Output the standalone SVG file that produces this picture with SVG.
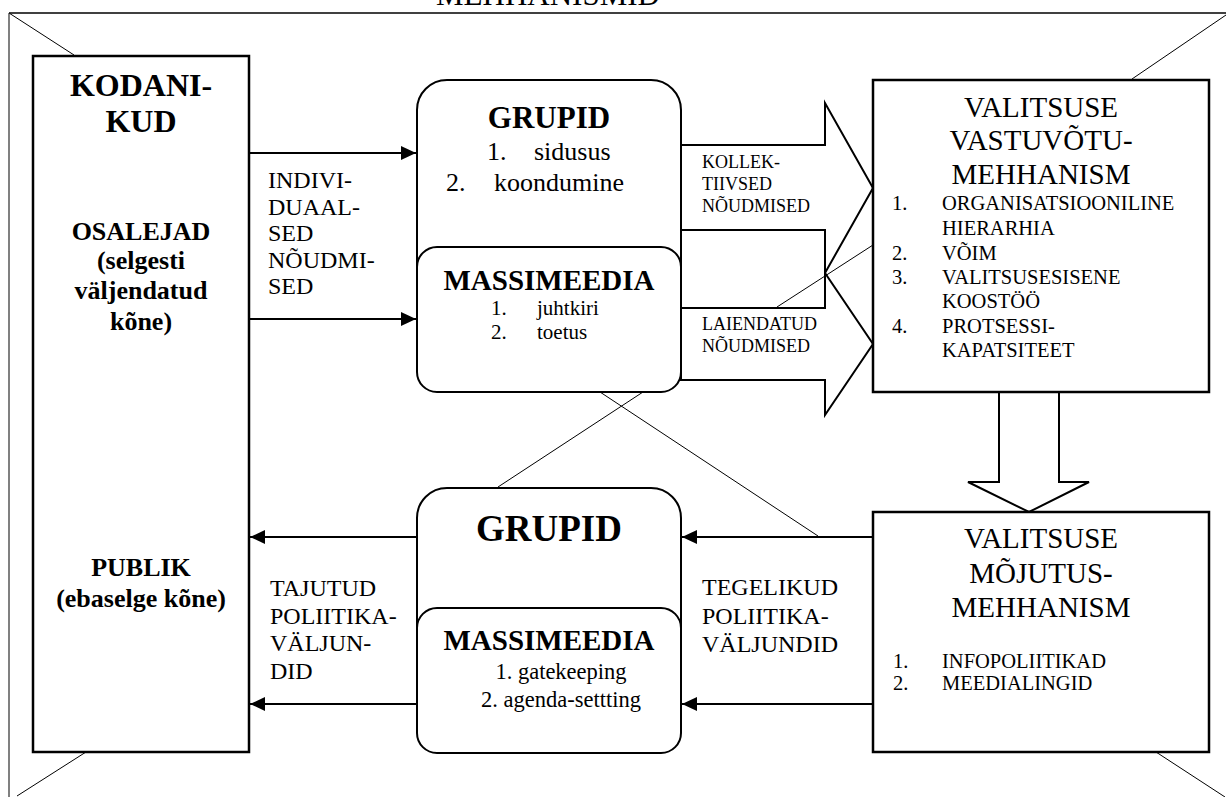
<svg xmlns="http://www.w3.org/2000/svg" width="1226" height="797" viewBox="0 0 1226 797" font-family="'Liberation Serif', 'DejaVu Serif', 'Times New Roman', serif">
  <style>
    text { font-family: "Liberation Serif", "DejaVu Serif", "Times New Roman", serif; fill: #000; }
    .b { font-weight: bold; }
    .box { fill: #fff; stroke: #000; stroke-width: 2.5; }
    .rbox { fill: #fff; stroke: #000; stroke-width: 2; }
    .thin { stroke: #000; stroke-width: 1; fill: none; }
    .flow { stroke: #000; stroke-width: 2.2; fill: none; marker-end: url(#ah); }
    .block { fill: #fff; stroke: #000; stroke-width: 2; stroke-linejoin: miter; }
    .mid { text-anchor: middle; }
  </style>
  <defs>
    <marker id="ah" viewBox="0 0 15 14" refX="15" refY="7" markerWidth="15" markerHeight="14" markerUnits="userSpaceOnUse" orient="auto">
      <path d="M0,0 L15,7 L0,14 z" fill="#000"/>
    </marker>
  </defs>

  <rect width="1226" height="797" fill="#fff"/>

  <!-- outer frame and heading -->
  <g id="frame">
    <text class="mid" x="548" y="5" font-size="31">MEHHANISMID</text>
    <line x1="9" y1="13" x2="1226" y2="13" stroke="#000" stroke-width="1.5"/>
    <line x1="9" y1="13" x2="9" y2="797" stroke="#808080" stroke-width="2"/>
    <!-- background cross, visible pieces -->
    <line class="thin" x1="9" y1="13" x2="74" y2="55"/>
    <line class="thin" x1="600" y1="392" x2="818" y2="536"/>
    <line class="thin" x1="1156" y1="752" x2="1225" y2="797"/>
    <line class="thin" x1="1226" y1="15" x2="1132" y2="79"/>
    <line class="thin" x1="873" y1="245" x2="777" y2="307"/>
    <line class="thin" x1="643" y1="392" x2="498" y2="487"/>
    <line class="thin" x1="86" y1="752" x2="17" y2="796"/>
  </g>

  <!-- connectors -->
  <g id="connectors">
    <line class="flow" x1="249" y1="153" x2="416" y2="153"/>
    <line class="flow" x1="249" y1="319" x2="416" y2="319"/>
    <line class="flow" x1="417" y1="537" x2="250" y2="537"/>
    <line class="flow" x1="417" y1="704" x2="250" y2="704"/>
    <line class="flow" x1="873" y1="537" x2="682" y2="537"/>
    <line class="flow" x1="873" y1="704" x2="682" y2="704"/>
    <polygon class="block" points="681,145 825,145 825,103 873,188 825,273 825,230 681,230"/>
    <polygon class="block" points="681,308 825,308 825,273 873,344 825,415 825,380 681,380"/>
    <polygon class="block" points="999,392 1059,392 1059,482 1089,482 1029,512 968,482 999,482"/>
    <text x="702" y="168" font-size="18">KOLLEK-</text>
    <text x="702" y="190" font-size="18">TIIVSED</text>
    <text x="702" y="212" font-size="18">NÕUDMISED</text>
    <text x="702" y="330" font-size="18">LAIENDATUD</text>
    <text x="702" y="352" font-size="18">NÕUDMISED</text>
    <g font-size="24">
      <text x="268" y="188">INDIVI-</text>
      <text x="268" y="214.5">DUAAL-</text>
      <text x="268" y="241">SED</text>
      <text x="268" y="267.5">NÕUDMI-</text>
      <text x="268" y="294">SED</text>
      <text x="270" y="596">TAJUTUD</text>
      <text x="270" y="623.5">POLIITIKA-</text>
      <text x="270" y="651">VÄLJUN-</text>
      <text x="270" y="678.5">DID</text>
      <text x="702" y="595">TEGELIKUD</text>
      <text x="702" y="623.5">POLIITIKA-</text>
      <text x="702" y="652">VÄLJUNDID</text>
    </g>
  </g>

  <!-- citizens -->
  <g id="kodanikud">
    <rect class="box" x="33" y="56" width="216" height="696"/>
    <text class="b mid" x="141" y="96" font-size="32">KODANI-</text>
    <text class="b mid" x="141" y="132" font-size="32">KUD</text>
    <text class="b mid" x="141" y="240" font-size="26">OSALEJAD</text>
    <text class="b mid" x="141" y="269" font-size="26">(selgesti</text>
    <text class="b mid" x="141" y="299" font-size="26">väljendatud</text>
    <text class="b mid" x="141" y="330" font-size="26">kõne)</text>
    <text class="b mid" x="141" y="576" font-size="26">PUBLIK</text>
    <text class="b mid" x="141" y="607" font-size="26">(ebaselge kõne)</text>
  </g>

  <!-- groups, input side -->
  <g id="grupid-sisend">
    <rect class="rbox" x="417" y="80" width="264" height="312" rx="30" ry="30"/>
    <text class="b mid" x="549" y="128" font-size="31">GRUPID</text>
    <text x="487" y="160" font-size="26">1.</text>
    <text x="534" y="160" font-size="26">sidusus</text>
    <text x="446" y="191" font-size="26">2.</text>
    <text x="494" y="191" font-size="26">koondumine</text>
  </g>

  <!-- mass media, input side -->
  <g id="massimeedia-sisend">
    <rect class="rbox" x="417" y="247" width="264" height="145" rx="20" ry="20"/>
    <text class="b mid" x="549" y="290" font-size="29">MASSIMEEDIA</text>
    <text x="491" y="315" font-size="21">1.</text>
    <text x="537" y="315" font-size="21">juhtkiri</text>
    <text x="491" y="339" font-size="21">2.</text>
    <text x="537" y="339" font-size="21">toetus</text>
  </g>

  <!-- groups, output side -->
  <g id="grupid-valjund">
    <rect class="rbox" x="417" y="488" width="264" height="265" rx="30" ry="30"/>
    <text class="b mid" x="549" y="541" font-size="37">GRUPID</text>
  </g>

  <!-- mass media, output side -->
  <g id="massimeedia-valjund">
    <rect class="rbox" x="417" y="608" width="264" height="145" rx="20" ry="20"/>
    <text class="b mid" x="549" y="650" font-size="29">MASSIMEEDIA</text>
    <text class="mid" x="561" y="679" font-size="22.5">1. gatekeeping</text>
    <text class="mid" x="561" y="707" font-size="22.5">2. agenda-settting</text>
  </g>

  <!-- government intake mechanism -->
  <g id="vastuvotu-mehhanism">
    <rect class="box" x="873" y="80" width="336" height="312"/>
    <text class="mid" x="1041" y="117" font-size="29">VALITSUSE</text>
    <text class="mid" x="1041" y="150" font-size="29">VASTUVÕTU-</text>
    <text class="mid" x="1041" y="184" font-size="29">MEHHANISM</text>
    <g font-size="20.5">
      <text x="892" y="210">1.</text>
      <text x="942" y="210">ORGANISATSIOONILINE</text>
      <text x="942" y="235">HIERARHIA</text>
      <text x="892" y="260">2.</text>
      <text x="942" y="260">VÕIM</text>
      <text x="892" y="284">3.</text>
      <text x="942" y="284">VALITSUSESISENE</text>
      <text x="942" y="308">KOOSTÖÖ</text>
      <text x="892" y="333">4.</text>
      <text x="942" y="333">PROTSESSI-</text>
      <text x="942" y="357">KAPATSITEET</text>
    </g>
  </g>

  <!-- government influence mechanism -->
  <g id="mojutus-mehhanism">
    <rect class="box" x="873" y="512" width="336" height="240"/>
    <text class="mid" x="1041" y="548" font-size="29">VALITSUSE</text>
    <text class="mid" x="1041" y="583" font-size="29">MÕJUTUS-</text>
    <text class="mid" x="1041" y="617" font-size="29">MEHHANISM</text>
    <g font-size="20.5">
      <text x="893" y="668">1.</text>
      <text x="942" y="668">INFOPOLIITIKAD</text>
      <text x="893" y="690">2.</text>
      <text x="942" y="690">MEEDIALINGID</text>
    </g>
  </g>
</svg>
